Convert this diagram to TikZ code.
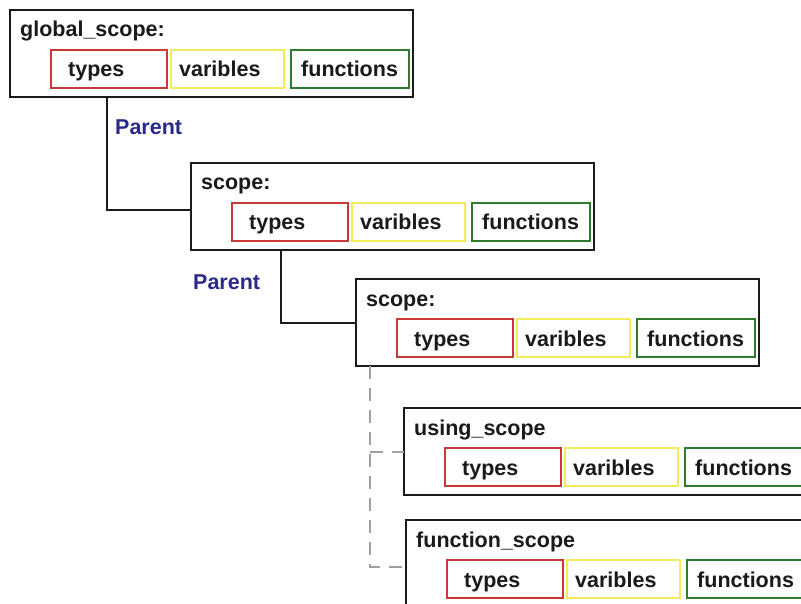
\documentclass[tikz,border=0pt]{standalone}
\usepackage{fontspec}
\setmainfont{Liberation Sans}
\definecolor{boxline}{HTML}{1A1A1A}
\definecolor{tred}{HTML}{C83838}
\definecolor{tyellow}{HTML}{F2EC5A}
\definecolor{tgreen}{HTML}{2E7A32}
\definecolor{pnavy}{HTML}{2A2A88}
\definecolor{dgray}{HTML}{A0A0A0}
\tikzset{
  scopebox/.style={draw=boxline, line width=2bp, fill=white, anchor=north west, minimum width=403bp, minimum height=87bp, inner sep=0pt, outer sep=0pt},
  typebox/.style={draw=tred, line width=1.8bp, anchor=north west, minimum width=116bp, minimum height=38bp, inner sep=0pt, outer sep=0pt},
  varbox/.style={draw=tyellow, line width=1.8bp, anchor=north west, minimum width=113bp, minimum height=38bp, inner sep=0pt, outer sep=0pt},
  funbox/.style={draw=tgreen, line width=1.8bp, anchor=north west, minimum width=118bp, minimum height=38bp, inner sep=0pt, outer sep=0pt},
  lbl/.style={anchor=base west, inner sep=0pt, font=\fontsize{21.5bp}{24bp}\selectfont\bfseries, text=boxline},
  parentlbl/.style={anchor=base west, inner sep=0pt, font=\fontsize{21.5bp}{24bp}\selectfont\bfseries, text=pnavy},
  conn/.style={draw=boxline, line width=2bp},
  dconn/.style={draw=dgray, line width=2bp, dash pattern=on 13bp off 9bp}
}
\newcommand{\scopeblock}[4]{% name, left, top, title
  \node[scopebox] (#1) at (#2,#3) {};
  \node[typebox] (#1t) at (#2+41,#3+40) {};
  \node[varbox] (#1v) at (#2+161,#3+40) {};
  \node[funbox] (#1f) at (#2+281,#3+40) {};
  \node[lbl] (#1title) at (#2+10,#3+27) {#4};
  \node[lbl] (#1tl) at (#2+58,#3+67) {types};
  \node[lbl] (#1vl) at (#2+169,#3+67) {varibles};
  \node[lbl] (#1fl) at (#2+291,#3+67) {functions};
}
\begin{document}
\begin{tikzpicture}[x=1bp,y=-1bp]
\useasboundingbox (0,0) rectangle (801,604);
\fill[white] (0,0) rectangle (801,604);
\clip (0,0) rectangle (801,604);
\scopeblock{ga}{10}{10}{global\_scope:}
\scopeblock{gb}{191}{163}{scope:}
\scopeblock{gc}{356}{279}{scope:}
\scopeblock{gd}{404}{408}{using\_scope}
\scopeblock{ge}{406}{520}{function\_scope}
% connectors
\draw[conn] ([xshift=97bp]ga.south west) |- ([yshift=-3.5bp]gb.west);
\draw[conn] ([xshift=90bp]gb.south west) |- (gc.west);
\draw[dconn] ([xshift=14bp]gc.south west) |- ([yshift=-3.5bp]ge.west);
\draw[dconn] ([xshift=14bp]gc.south west |- gd.west) -- (gd.west);
\node[parentlbl] (p1) at (115,135) {Parent};
\node[parentlbl] (p2) at (193,289) {Parent};
\end{tikzpicture}
\end{document}
